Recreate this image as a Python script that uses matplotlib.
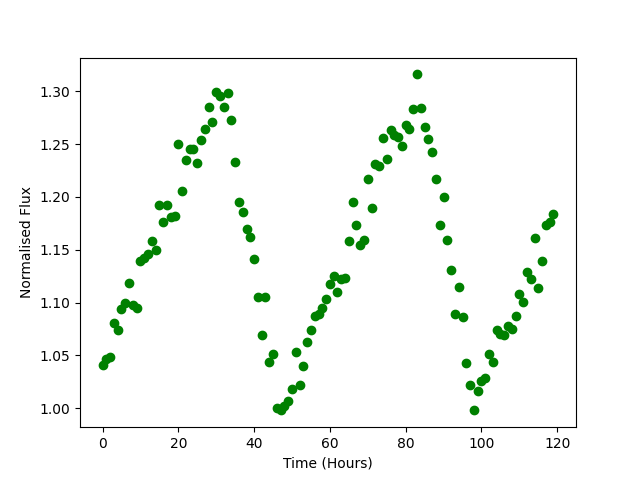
import numpy as np
import matplotlib
matplotlib.use("Agg")
import matplotlib.pyplot as plt

# time in hours, one reading per hour
hours = np.arange(120)

flux = [
    1.041, 1.047, 1.049, 1.081, 1.074, 1.094, 1.100, 1.119, 1.098, 1.095,
    1.139, 1.142, 1.146, 1.158, 1.150, 1.192, 1.176, 1.192, 1.181, 1.182,
    1.250, 1.206, 1.235, 1.245, 1.245, 1.232, 1.254, 1.264, 1.285, 1.271,
    1.299, 1.296, 1.285, 1.298, 1.273, 1.233, 1.195, 1.186, 1.170, 1.162,
    1.141, 1.105, 1.069, 1.105, 1.044, 1.051, 1.000, 0.998, 1.002, 1.007,
    1.018, 1.053, 1.022, 1.040, 1.063, 1.074, 1.087, 1.089, 1.095, 1.103,
    1.118, 1.125, 1.110, 1.122, 1.123, 1.158, 1.195, 1.173, 1.155, 1.159,
    1.217, 1.190, 1.231, 1.229, 1.256, 1.236, 1.263, 1.259, 1.257, 1.248,
    1.268, 1.264, 1.283, 1.316, 1.284, 1.266, 1.255, 1.243, 1.217, 1.173,
    1.200, 1.159, 1.131, 1.089, 1.115, 1.086, 1.043, 1.022, 0.998, 1.016,
    1.026, 1.029, 1.051, 1.044, 1.074, 1.070, 1.069, 1.078, 1.075, 1.087,
    1.108, 1.101, 1.129, 1.122, 1.161, 1.114, 1.139, 1.173, 1.176, 1.184,
]

plt.figure(figsize=(6.4, 4.8), dpi=100)
plt.plot(hours, flux, 'go')
plt.xlabel('Time (Hours)')
plt.ylabel('Normalised Flux')
plt.savefig('out.png')
